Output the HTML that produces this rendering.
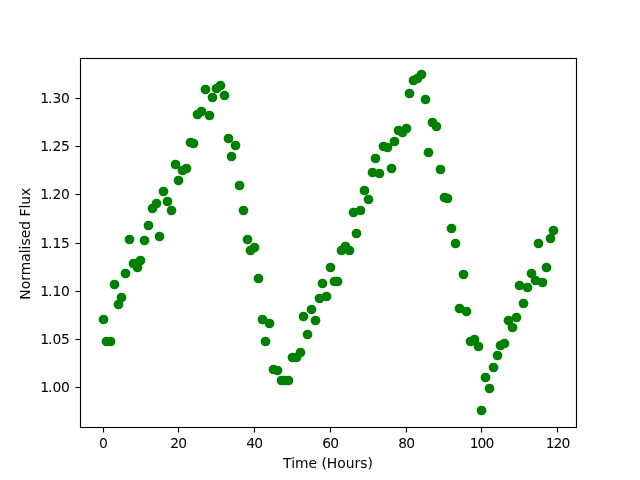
<!DOCTYPE html>
<html><head><meta charset="utf-8"><title>Plot</title>
<style>html,body{margin:0;padding:0;background:#fff;}svg{display:block}</style></head>
<body><svg width="640" height="480" viewBox="0 0 640 480">
<rect width="640" height="480" fill="#fff"/>
<g fill="#008000"><circle cx="103.5" cy="319.5" r="4.86"/><circle cx="106.5" cy="341.5" r="4.86"/><circle cx="110.5" cy="341.5" r="4.86"/><circle cx="114.5" cy="284.5" r="4.86"/><circle cx="118.5" cy="304.5" r="4.86"/><circle cx="121.5" cy="297.5" r="4.86"/><circle cx="125.5" cy="273.5" r="4.86"/><circle cx="129.5" cy="239.5" r="4.86"/><circle cx="133.5" cy="263.5" r="4.86"/><circle cx="137.5" cy="267.5" r="4.86"/><circle cx="140.5" cy="260.5" r="4.86"/><circle cx="144.5" cy="240.5" r="4.86"/><circle cx="148.5" cy="225.5" r="4.86"/><circle cx="152.5" cy="208.5" r="4.86"/><circle cx="156.5" cy="203.5" r="4.86"/><circle cx="159.5" cy="236.5" r="4.86"/><circle cx="163.5" cy="191.5" r="4.86"/><circle cx="167.5" cy="201.5" r="4.86"/><circle cx="171.5" cy="210.5" r="4.86"/><circle cx="175.5" cy="164.5" r="4.86"/><circle cx="178.5" cy="180.5" r="4.86"/><circle cx="182.5" cy="170.5" r="4.86"/><circle cx="186.5" cy="168.5" r="4.86"/><circle cx="190.5" cy="142.5" r="4.86"/><circle cx="193.5" cy="143.5" r="4.86"/><circle cx="197.5" cy="114.5" r="4.86"/><circle cx="201.5" cy="111.5" r="4.86"/><circle cx="205.5" cy="89.5" r="4.86"/><circle cx="209.5" cy="115.5" r="4.86"/><circle cx="212.5" cy="97.5" r="4.86"/><circle cx="216.5" cy="88.5" r="4.86"/><circle cx="220.5" cy="85.5" r="4.86"/><circle cx="224.5" cy="95.5" r="4.86"/><circle cx="228.5" cy="138.5" r="4.86"/><circle cx="231.5" cy="156.5" r="4.86"/><circle cx="235.5" cy="145.5" r="4.86"/><circle cx="239.5" cy="185.5" r="4.86"/><circle cx="243.5" cy="210.5" r="4.86"/><circle cx="247.5" cy="239.5" r="4.86"/><circle cx="250.5" cy="250.5" r="4.86"/><circle cx="254.5" cy="247.5" r="4.86"/><circle cx="258.5" cy="278.5" r="4.86"/><circle cx="262.5" cy="319.5" r="4.86"/><circle cx="265.5" cy="341.5" r="4.86"/><circle cx="269.5" cy="323.5" r="4.86"/><circle cx="273.5" cy="369.5" r="4.86"/><circle cx="277.5" cy="370.5" r="4.86"/><circle cx="281.5" cy="380.5" r="4.86"/><circle cx="284.5" cy="380.5" r="4.86"/><circle cx="288.5" cy="380.5" r="4.86"/><circle cx="292.5" cy="357.5" r="4.86"/><circle cx="296.5" cy="357.5" r="4.86"/><circle cx="300.5" cy="352.5" r="4.86"/><circle cx="303.5" cy="316.5" r="4.86"/><circle cx="307.5" cy="334.5" r="4.86"/><circle cx="311.5" cy="309.5" r="4.86"/><circle cx="315.5" cy="320.5" r="4.86"/><circle cx="319.5" cy="298.5" r="4.86"/><circle cx="322.5" cy="283.5" r="4.86"/><circle cx="326.5" cy="296.5" r="4.86"/><circle cx="330.5" cy="267.5" r="4.86"/><circle cx="334.5" cy="281.5" r="4.86"/><circle cx="337.5" cy="281.5" r="4.86"/><circle cx="341.5" cy="250.5" r="4.86"/><circle cx="345.5" cy="246.5" r="4.86"/><circle cx="349.5" cy="250.5" r="4.86"/><circle cx="353.5" cy="212.5" r="4.86"/><circle cx="356.5" cy="233.5" r="4.86"/><circle cx="360.5" cy="210.5" r="4.86"/><circle cx="364.5" cy="190.5" r="4.86"/><circle cx="368.5" cy="199.5" r="4.86"/><circle cx="372.5" cy="172.5" r="4.86"/><circle cx="375.5" cy="158.5" r="4.86"/><circle cx="379.5" cy="173.5" r="4.86"/><circle cx="383.5" cy="146.5" r="4.86"/><circle cx="387.5" cy="147.5" r="4.86"/><circle cx="391.5" cy="168.5" r="4.86"/><circle cx="394.5" cy="141.5" r="4.86"/><circle cx="398.5" cy="130.5" r="4.86"/><circle cx="402.5" cy="132.5" r="4.86"/><circle cx="406.5" cy="128.5" r="4.86"/><circle cx="409.5" cy="93.5" r="4.86"/><circle cx="413.5" cy="80.5" r="4.86"/><circle cx="417.5" cy="78.5" r="4.86"/><circle cx="421.5" cy="74.5" r="4.86"/><circle cx="425.5" cy="99.5" r="4.86"/><circle cx="428.5" cy="152.5" r="4.86"/><circle cx="432.5" cy="122.5" r="4.86"/><circle cx="436.5" cy="126.5" r="4.86"/><circle cx="440.5" cy="169.5" r="4.86"/><circle cx="444.5" cy="197.5" r="4.86"/><circle cx="447.5" cy="198.5" r="4.86"/><circle cx="451.5" cy="228.5" r="4.86"/><circle cx="455.5" cy="243.5" r="4.86"/><circle cx="459.5" cy="308.5" r="4.86"/><circle cx="463.5" cy="274.5" r="4.86"/><circle cx="466.5" cy="311.5" r="4.86"/><circle cx="470.5" cy="341.5" r="4.86"/><circle cx="474.5" cy="339.5" r="4.86"/><circle cx="478.5" cy="346.5" r="4.86"/><circle cx="481.5" cy="410.5" r="4.86"/><circle cx="485.5" cy="377.5" r="4.86"/><circle cx="489.5" cy="388.5" r="4.86"/><circle cx="493.5" cy="367.5" r="4.86"/><circle cx="497.5" cy="355.5" r="4.86"/><circle cx="500.5" cy="345.5" r="4.86"/><circle cx="504.5" cy="343.5" r="4.86"/><circle cx="508.5" cy="320.5" r="4.86"/><circle cx="512.5" cy="327.5" r="4.86"/><circle cx="516.5" cy="317.5" r="4.86"/><circle cx="519.5" cy="285.5" r="4.86"/><circle cx="523.5" cy="303.5" r="4.86"/><circle cx="527.5" cy="287.5" r="4.86"/><circle cx="531.5" cy="273.5" r="4.86"/><circle cx="535.5" cy="280.5" r="4.86"/><circle cx="538.5" cy="243.5" r="4.86"/><circle cx="542.5" cy="282.5" r="4.86"/><circle cx="546.5" cy="267.5" r="4.86"/><circle cx="550.5" cy="238.5" r="4.86"/><circle cx="553.5" cy="230.5" r="4.86"/></g>
<g fill="#000"><rect x="79.945" y="57.945" width="1.11" height="370.110"/><rect x="575.945" y="57.945" width="1.11" height="370.110"/><rect x="79.945" y="57.945" width="497.110" height="1.11"/><rect x="79.945" y="426.945" width="497.110" height="1.11"/><rect x="102.945" y="427.2" width="1.11" height="5.3"/><rect x="177.945" y="427.2" width="1.11" height="5.3"/><rect x="253.945" y="427.2" width="1.11" height="5.3"/><rect x="329.945" y="427.2" width="1.11" height="5.3"/><rect x="405.945" y="427.2" width="1.11" height="5.3"/><rect x="480.945" y="427.2" width="1.11" height="5.3"/><rect x="556.945" y="427.2" width="1.11" height="5.3"/><rect x="75.5" y="386.945" width="4.6" height="1.11"/><rect x="75.5" y="338.945" width="4.6" height="1.11"/><rect x="75.5" y="290.945" width="4.6" height="1.11"/><rect x="75.5" y="242.945" width="4.6" height="1.11"/><rect x="75.5" y="193.945" width="4.6" height="1.11"/><rect x="75.5" y="145.945" width="4.6" height="1.11"/><rect x="75.5" y="97.945" width="4.6" height="1.11"/></g><g font-family="'DejaVu Sans', 'Liberation Sans', sans-serif" font-size="13.89px" fill="#000"><text x="99.08" y="448.2">0</text><text x="170.16 178.30" y="448.2">20</text><text x="246.16 254.30" y="448.2">40</text><text x="322.16 330.30" y="448.2">60</text><text x="398.16 406.30" y="448.2">80</text><text x="469.64 477.38 485.62" y="448.2">100</text><text x="545.64 553.38 561.62" y="448.2">120</text><text x="40.2 47.9 52.4 61" y="391.70">1.00</text><text x="40.2 47.9 52.4 61" y="343.70">1.05</text><text x="40.2 47.9 52.4 61" y="295.70">1.10</text><text x="40.2 47.9 52.4 61" y="247.70">1.15</text><text x="40.2 47.9 52.4 61" y="198.70">1.20</text><text x="40.2 47.9 52.4 61" y="150.70">1.25</text><text x="40.2 47.9 52.4 61" y="102.70">1.30</text><text x="328" y="467.6" text-anchor="middle">Time (Hours)</text><text transform="translate(30.3 243.7) rotate(-90)" text-anchor="middle">Normalised Flux</text></g>
</svg></body></html>
